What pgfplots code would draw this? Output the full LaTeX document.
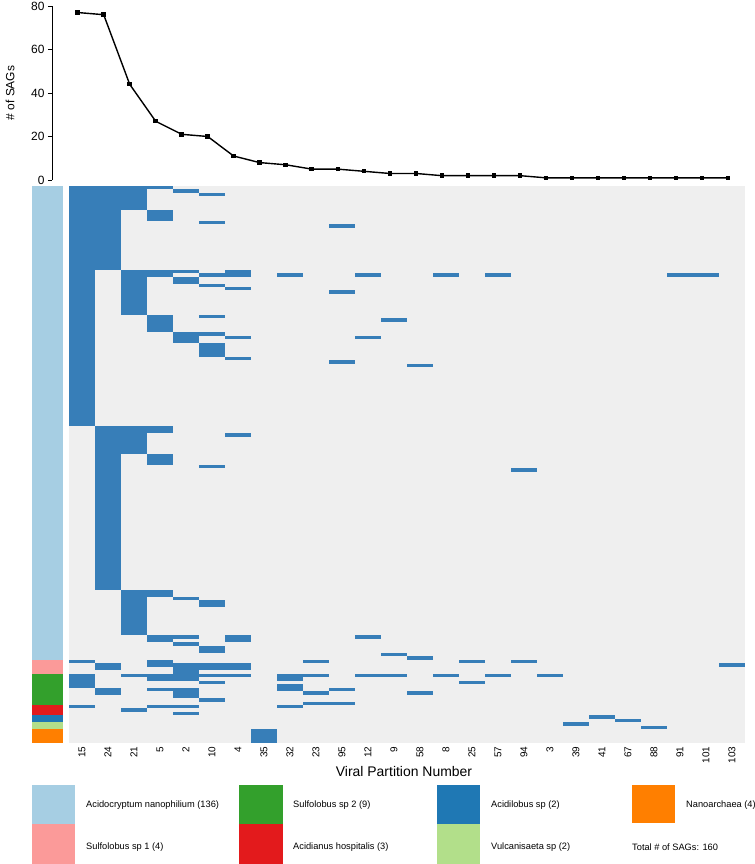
\documentclass[border=0pt]{standalone}
\usepackage{fontspec}
\setmainfont{Liberation Sans}
\usepackage{pgfplots}
\pgfplotsset{compat=1.18}
\definecolor{cb}{RGB}{55,126,184}
\definecolor{bg}{RGB}{239,239,239}
\definecolor{c1}{HTML}{A6CEE3}
\definecolor{c2}{HTML}{FB9A99}
\definecolor{c3}{HTML}{33A02C}
\definecolor{c4}{HTML}{E31A1C}
\definecolor{c5}{HTML}{1F78B4}
\definecolor{c6}{HTML}{B2DF8A}
\definecolor{c7}{HTML}{FF7F00}
% rectangle of data: x0 x1 y0 y1
\newcommand\cell[5][cb]{\addplot[fill=#1,draw=none] coordinates {(#2,#4) (#3,#4) (#3,#5) (#2,#5)} -- cycle;}
\begin{document}
\begin{tikzpicture}
\useasboundingbox (0,0) rectangle (755bp,864bp);
% ---------------- top line plot ----------------
\begin{axis}[
  at={(52bp,684bp)}, anchor=south west,
  width=693bp, height=174bp, scale only axis,
  xmin=-0.488, xmax=26.165, ymin=0, ymax=80,
  axis x line=none, axis y line=left,
  axis line style={-, line width=0.6bp},
  xtick=\empty, ytick={0,20,40,60,80},
  tick align=outside, major tick length=4bp,
  tick style={line width=0.6bp, black},
  /pgf/number format/assume math mode=true,
  yticklabel style={font=\fontsize{12}{14}\selectfont},
  clip=false,
]
\addplot[black, line width=1.4bp, mark=square*, mark size=1.5bp] coordinates {
(0.5,77) (1.5,76) (2.5,44) (3.5,27) (4.5,21) (5.5,20) (6.5,11) (7.5,8) (8.5,7)
(9.5,5) (10.5,5) (11.5,4) (12.5,3) (13.5,3) (14.5,2) (15.5,2) (16.5,2) (17.5,2)
(18.5,1) (19.5,1) (20.5,1) (21.5,1) (22.5,1) (23.5,1) (24.5,1) (25.5,1)};
\end{axis}
\node[rotate=90, font=\fontsize{12}{14}\selectfont] at (10bp,771bp) {\# of SAGs};
% ---------------- heatmap ----------------
\begin{axis}[
  at={(32bp,120.7bp)}, anchor=south west,
  width=713bp, height=557.3bp, scale only axis,
  xmin=-1.4231, xmax=26, ymin=0, ymax=160, y dir=reverse,
  axis line style={draw=none}, tick style={draw=none},
  major tick length=0, ytick=\empty,
  xtick={0.5,1.5,...,25.5},
  xticklabels={15,24,21,5,2,10,4,35,32,23,95,12,9,58,8,25,57,94,3,39,41,67,88,91,101,103},
  xticklabel style={rotate=90, anchor=east, font=\fontsize{10}{12}\selectfont},
  clip=false,
]
% background
\cell[bg]{0}{26}{0}{160}
% taxonomy side bar
\cell[c1]{-1.4231}{-0.2308}{0}{136}
\cell[c2]{-1.4231}{-0.2308}{136}{140}
\cell[c3]{-1.4231}{-0.2308}{140}{149}
\cell[c4]{-1.4231}{-0.2308}{149}{152}
\cell[c5]{-1.4231}{-0.2308}{152}{154}
\cell[c6]{-1.4231}{-0.2308}{154}{156}
\cell[c7]{-1.4231}{-0.2308}{156}{160}
% col 15
\cell{0}{1}{0}{69}\cell{0}{1}{136}{137}\cell{0}{1}{140}{144}\cell{0}{1}{149}{150}
% col 24
\cell{1}{2}{0}{24}\cell{1}{2}{69}{116}\cell{1}{2}{137}{139}\cell{1}{2}{144}{146}
% col 21
\cell{2}{3}{0}{7}\cell{2}{3}{24}{37}\cell{2}{3}{69}{77}\cell{2}{3}{116}{129}\cell{2}{3}{140}{141}\cell{2}{3}{150}{151}
% col 5
\cell{3}{4}{0}{1}\cell{3}{4}{7}{10}\cell{3}{4}{24}{26}\cell{3}{4}{37}{42}\cell{3}{4}{69}{71}\cell{3}{4}{77}{80}
\cell{3}{4}{116}{118}\cell{3}{4}{129}{131}\cell{3}{4}{136}{138}\cell{3}{4}{140}{142}\cell{3}{4}{144}{145}\cell{3}{4}{149}{150}
% col 2
\cell{4}{5}{1}{2}\cell{4}{5}{24}{25}\cell{4}{5}{26}{28}\cell{4}{5}{42}{45}\cell{4}{5}{118}{119}\cell{4}{5}{129}{130}
\cell{4}{5}{131}{132}\cell{4}{5}{137}{142}\cell{4}{5}{144}{147}\cell{4}{5}{149}{150}\cell{4}{5}{151}{152}
% col 10
\cell{5}{6}{2}{3}\cell{5}{6}{10}{11}\cell{5}{6}{25}{26}\cell{5}{6}{28}{29}\cell{5}{6}{37}{38}\cell{5}{6}{42}{43}
\cell{5}{6}{45}{49}\cell{5}{6}{80}{81}\cell{5}{6}{119}{121}\cell{5}{6}{132}{134}\cell{5}{6}{137}{139}\cell{5}{6}{140}{141}
\cell{5}{6}{142}{143}\cell{5}{6}{147}{148}
% col 4
\cell{6}{7}{24}{26}\cell{6}{7}{29}{30}\cell{6}{7}{43}{44}\cell{6}{7}{49}{50}\cell{6}{7}{71}{72}\cell{6}{7}{129}{131}
\cell{6}{7}{137}{139}\cell{6}{7}{140}{141}
% col 35
\cell{7}{8}{156}{160}
% col 32
\cell{8}{9}{25}{26}\cell{8}{9}{140}{142}\cell{8}{9}{143}{145}\cell{8}{9}{149}{150}
% col 23
\cell{9}{10}{136}{137}\cell{9}{10}{140}{141}\cell{9}{10}{145}{146}\cell{9}{10}{148}{149}
% col 95
\cell{10}{11}{11}{12}\cell{10}{11}{30}{31}\cell{10}{11}{50}{51}\cell{10}{11}{144}{145}\cell{10}{11}{148}{149}
% col 12
\cell{11}{12}{25}{26}\cell{11}{12}{43}{44}\cell{11}{12}{129}{130}\cell{11}{12}{140}{141}
% col 9
\cell{12}{13}{38}{39}\cell{12}{13}{134}{135}\cell{12}{13}{140}{141}
% col 58
\cell{13}{14}{51}{52}\cell{13}{14}{135}{136}\cell{13}{14}{145}{146}
% col 8
\cell{14}{15}{25}{26}\cell{14}{15}{140}{141}
% col 25
\cell{15}{16}{136}{137}\cell{15}{16}{142}{143}
% col 57
\cell{16}{17}{25}{26}\cell{16}{17}{140}{141}
% col 94
\cell{17}{18}{81}{82}\cell{17}{18}{136}{137}
% col 3
\cell{18}{19}{140}{141}
% col 39, 41, 67, 88
\cell{19}{20}{154}{155}
\cell{20}{21}{152}{153}
\cell{21}{22}{153}{154}
\cell{22}{23}{155}{156}
% col 91, 101, 103
\cell{23}{24}{25}{26}
\cell{24}{25}{25}{26}
\cell{25}{26}{137}{138}
\end{axis}
\node[font=\fontsize{14}{16}\selectfont] at (404bp,92bp) {Viral Partition Number};
% ---------------- legend ----------------
\begin{scope}[every node/.style={anchor=west, font=\fontsize{9.3}{11}\selectfont, inner sep=0pt}]
\fill[c1] (32bp,40bp) rectangle (75bp,79bp);
\fill[c2] (32bp,0bp) rectangle (75bp,40bp);
\fill[c3] (239bp,40bp) rectangle (282.5bp,79bp);
\fill[c4] (239bp,0bp) rectangle (282.5bp,40bp);
\fill[c5] (437bp,40bp) rectangle (480bp,79bp);
\fill[c6] (437bp,0bp) rectangle (480bp,40bp);
\fill[c7] (632bp,41bp) rectangle (675bp,79bp);
\node at (86bp,59bp) {Acidocryptum nanophilium (136)};
\node at (86bp,17bp) {Sulfolobus sp 1 (4)};
\node at (293bp,59bp) {Sulfolobus sp 2 (9)};
\node at (293bp,17bp) {Acidianus hospitalis (3)};
\node at (491bp,59bp) {Acidilobus sp (2)};
\node at (491bp,17bp) {Vulcanisaeta sp (2)};
\node at (686bp,59bp) {Nanoarchaea (4)};
\node at (632bp,17bp) {Total \# of SAGs: 160};
\end{scope}
\end{tikzpicture}
\end{document}
